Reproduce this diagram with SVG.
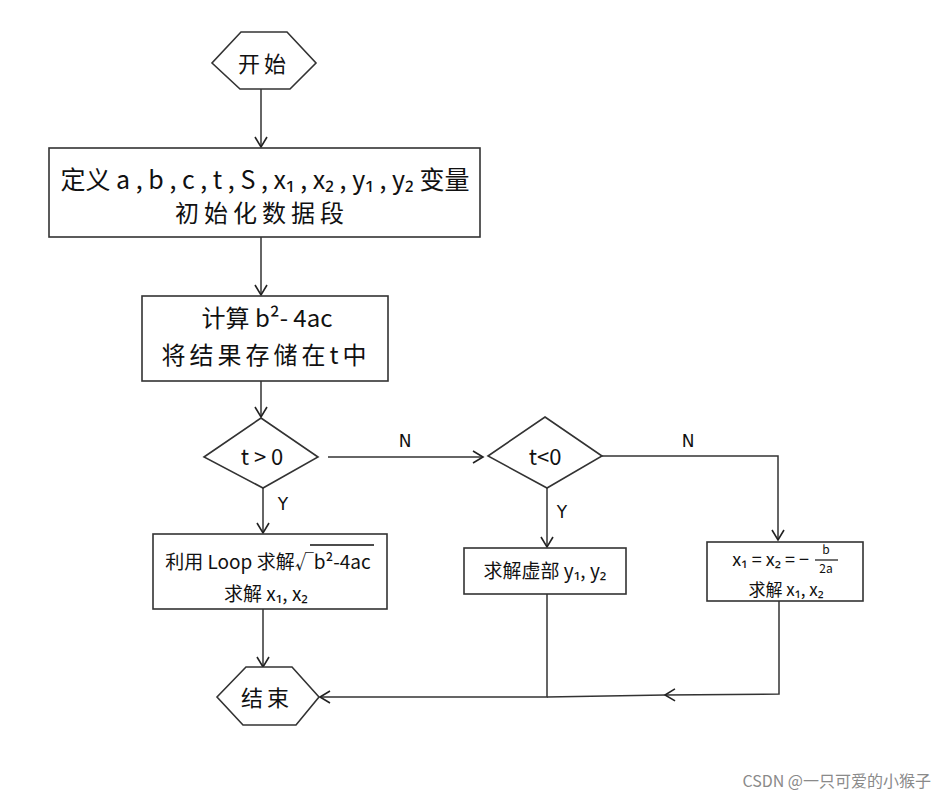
<svg xmlns="http://www.w3.org/2000/svg" width="946" height="805" viewBox="0 0 946 805">
<defs>
<marker id="arr" markerWidth="14" markerHeight="14" refX="11" refY="7" orient="auto" markerUnits="userSpaceOnUse">
<path d="M1,1 L11,7 L1,13" fill="none" stroke="#222" stroke-width="1.6"/>
</marker>
<style>
.sh{fill:#fff;stroke:#333;stroke-width:1.6}
.cn{fill:none;stroke:#333;stroke-width:1.5}
.t{font-family:"Noto Sans CJK SC","Noto Sans","DejaVu Sans",sans-serif;fill:#111;text-anchor:middle}
.lb{font-family:"DejaVu Sans","Noto Sans",sans-serif;fill:#111;font-size:17px;text-anchor:middle}
</style>
</defs>
<rect width="946" height="805" fill="#fff"/>

<g id="connectors">
<path class="cn" d="M261,89 L261,147" marker-end="url(#arr)"/>
<path class="cn" d="M261,237 L261,295" marker-end="url(#arr)"/>
<path class="cn" d="M261,381 L261,417" marker-end="url(#arr)"/>
<path class="cn" d="M328,457 L483,457" marker-end="url(#arr)"/>
<path class="cn" d="M602,456 L778,456 L778,540" marker-end="url(#arr)"/>
<path class="cn" d="M263,488 L263,533" marker-end="url(#arr)"/>
<path class="cn" d="M547,488 L547,547" marker-end="url(#arr)"/>
<path class="cn" d="M263,609 L263,667" marker-end="url(#arr)"/>
<path class="cn" d="M547,594 L547,697 L320,697" marker-end="url(#arr)"/>
<path class="cn" d="M779,601 L779,694 L665,695" marker-end="url(#arr)"/>
<path class="cn" d="M665,695 L547,697"/>
<text class="lb" x="405" y="447">N</text>
<text class="lb" x="688" y="447">N</text>
<text class="lb" x="283" y="510">Y</text>
<text class="lb" x="562" y="518">Y</text>
</g>

<g id="start">
<polygon class="sh" points="241,32 287,32 316,63 290,89 240,89 212,63"/>
<text class="t" x="264" y="72" font-size="22" letter-spacing="4">开始</text>
</g>

<g id="init">
<rect class="sh" x="49" y="148" width="431" height="89"/>
<text class="t" x="265" y="189" font-size="25">定义 a , b , c , t , S , x₁ , x₂ , y₁ , y₂ 变量</text>
<text class="t" x="262" y="222" font-size="24" letter-spacing="5">初始化数据段</text>
</g>

<g id="calc">
<rect class="sh" x="142" y="296" width="246" height="85"/>
<text class="t" x="267" y="327" font-size="24">计算 b²- 4ac</text>
<text class="t" x="266" y="364" font-size="24" letter-spacing="4">将结果存储在t中</text>
</g>

<g id="cond1">
<polygon class="sh" points="261,418 318,457 263,488 204,457"/>
<text class="t" x="262" y="465" font-size="22">t &gt; 0</text>
</g>

<g id="cond2">
<polygon class="sh" points="545,417 602,456 547,488 488,456"/>
<text class="t" x="545" y="465" font-size="22">t&lt;0</text>
</g>

<g id="loop">
<rect class="sh" x="153" y="534" width="234" height="75"/>
<text class="t" x="268" y="569" font-size="19">利用 Loop 求解√b²-4ac</text>
<line x1="310" y1="545" x2="374" y2="545" stroke="#111" stroke-width="1.3"/>
<text class="t" x="266" y="601" font-size="19">求解 x₁, x₂</text>
</g>

<g id="imag">
<rect class="sh" x="464" y="548" width="162" height="46"/>
<text class="t" x="545" y="578" font-size="19">求解虚部 y₁, y₂</text>
</g>

<g id="equal">
<rect class="sh" x="707" y="542" width="156" height="59"/>
<text class="t" x="809" y="566" font-size="18" style="text-anchor:end">x₁ = x₂ = −</text>
<text class="t" x="826" y="554" font-size="12">b</text>
<line x1="815" y1="560" x2="838" y2="560" stroke="#111" stroke-width="1.2"/>
<text class="t" x="826" y="573" font-size="12">2a</text>
<text class="t" x="786" y="596" font-size="17">求解 x₁, x₂</text>
</g>

<g id="end">
<polygon class="sh" points="246,667 292,667 319,697 296,725 243,725 217,697"/>
<text class="t" x="267" y="706" font-size="22" letter-spacing="4">结束</text>
</g>

<text x="931" y="787" font-family="'Noto Sans CJK SC','Noto Sans',sans-serif" font-size="16" fill="#8a8a8a" text-anchor="end">CSDN @一只可爱的小猴子</text>
</svg>
